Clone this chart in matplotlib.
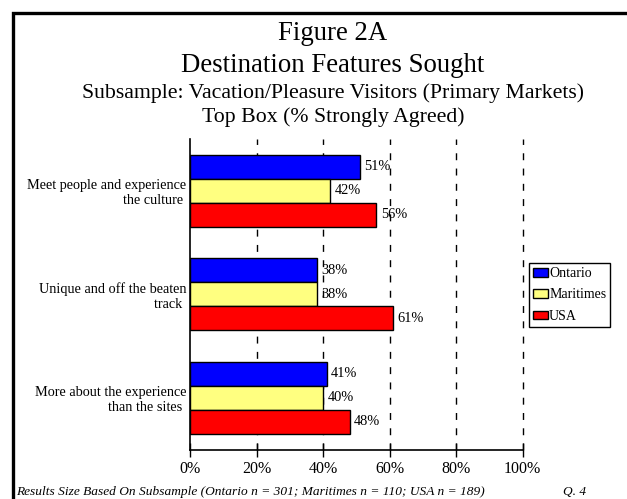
import numpy as np
import matplotlib
matplotlib.use('Agg')
import matplotlib.pyplot as plt
from matplotlib.lines import Line2D

plt.rcParams['font.family'] = ['Liberation Serif', 'DejaVu Serif']

categories = ['Meet people and experience\nthe culture ',
              'Unique and off the beaten\ntrack ',
              'More about the experience\nthan the sites ']
series = ['Ontario', 'Maritimes', 'USA']
ontario = [51, 38, 41]
maritimes = [42, 38, 40]
usa = [56, 61, 48]
colors = ['#0000ff', '#ffff80', '#ff0000']
xticks = [0, 20, 40, 60, 80, 100]

W, H = 627, 499
fig = plt.figure(figsize=(W / 100, H / 100), dpi=100)
ax = fig.add_axes([190.5 / W, 1 - 449.5 / H, (522.5 - 190.5) / W, (449.5 - 139) / H])

y = np.arange(len(categories))
h = 0.233
for i, (vals, name, c) in enumerate(zip([ontario, maritimes, usa], series, colors)):
    pos = y + (i - 1) * h
    ax.barh(pos, vals, height=h, color=c, edgecolor='black', linewidth=1.0,
            label=name, zorder=3)
    for p, v in zip(pos, vals):
        ax.text(v + 1.3, p, f'{v}%', va='center', ha='left', fontsize=10.4, zorder=4)

ax.set_xlim(0, 100)
ax.set_ylim(2.5, -0.5)
ax.set_yticks(y)
ax.set_yticklabels(categories, fontsize=10.3, ha='right', multialignment='right')
ax.tick_params(axis='y', length=0, pad=3)
ax.set_xticks(xticks)
ax.set_xticklabels([f'{t}%' for t in xticks], fontsize=11.5)
ax.tick_params(axis='x', direction='inout', length=10, width=1, pad=3)

for t in xticks[1:]:
    ax.axvline(t, color='black', linewidth=1, dashes=(5, 6), zorder=1,
               snap=True, clip_on=False)

for s in ['top', 'right']:
    ax.spines[s].set_visible(False)
ax.spines['left'].set_linewidth(1.2)
ax.spines['bottom'].set_linewidth(1.2)

leg = ax.legend(loc='upper left', bbox_to_anchor=(529 / W, 1 - 263 / H),
                bbox_transform=fig.transFigure, fontsize=10, frameon=True,
                fancybox=False, framealpha=1, edgecolor='black',
                handlelength=1.05, handleheight=0.6, handletextpad=0.1,
                borderpad=0.3, labelspacing=0.6, borderaxespad=0)
leg.get_frame().set_linewidth(1)

cx = 333 / W
fig.text(cx, 1 - 33 / H, 'Figure 2A', ha='center', va='center', fontsize=19.3)
fig.text(cx, 1 - 65 / H, 'Destination Features Sought', ha='center', va='center', fontsize=19.3)
fig.text(cx, 1 - 93 / H, 'Subsample: Vacation/Pleasure Visitors (Primary Markets)',
         ha='center', va='center', fontsize=15.7)
fig.text(cx, 1 - 117 / H, 'Top Box (% Strongly Agreed)', ha='center', va='center', fontsize=15.7)

fig.text(16 / W, 1 - 492 / H,
         'Results Size Based On Subsample (Ontario n = 301; Maritimes n = 110; USA n = 189)',
         ha='left', va='center', fontsize=9.65, style='italic')
fig.text(563 / W, 1 - 492 / H, 'Q. 4', ha='left', va='center', fontsize=9.65, style='italic')

# outer frame (left and top edges)
fig.add_artist(Line2D([12.5 / W, 12.5 / W, 1], [0, 1 - 12.5 / H, 1 - 12.5 / H],
                      transform=fig.transFigure, color='black', linewidth=2.4,
                      solid_joinstyle='miter'))

fig.savefig('out.png', dpi=100)
